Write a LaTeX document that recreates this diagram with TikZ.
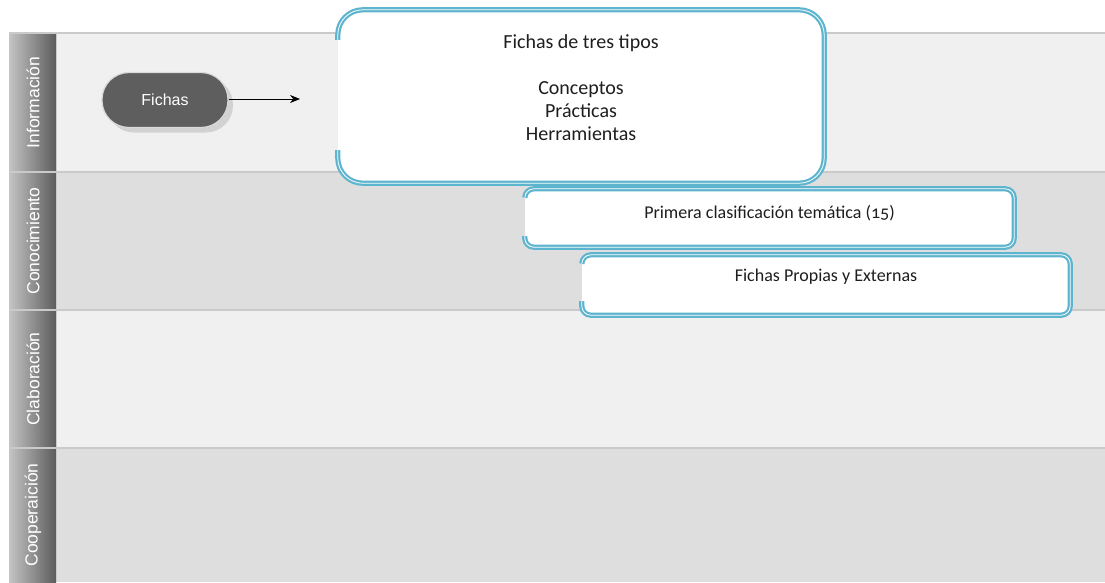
\documentclass[tikz,border=0pt]{standalone}
\usepackage{fontspec}
\setmainfont{Carlito}[Numbers=OldStyle]
\newfontfamily\lanefont{Liberation Sans}
\usetikzlibrary{shadows,arrows.meta}

\definecolor{lanelight}{HTML}{F0F0F0}
\definecolor{lanedark}{HTML}{DEDEDE}
\definecolor{sepgray}{HTML}{CACACA}
\definecolor{hdlight}{HTML}{C4C4C4}
\definecolor{hddark}{HTML}{5C5C5C}
\definecolor{pillgray}{HTML}{5E5E5E}
\definecolor{cardblue}{HTML}{5DB4CE}
\definecolor{inktext}{HTML}{1E1E1E}

\tikzset{
  lanehead/.style={left color=hdlight, right color=hddark},
  lanelabel/.style={rotate=90, text=white, inner sep=0pt,
    font=\lanefont\fontsize{17.5}{20}\selectfont},
  pill/.style={rounded corners=27, minimum width=126, minimum height=55,
    fill=pillgray, draw=black!15, line width=1.2, text=white, inner sep=0pt,
    font=\lanefont\fontsize{16}{18}\selectfont,
    drop shadow={shadow xshift=5pt, shadow yshift=-5pt, fill=black!35, opacity=0.4}},
  card/.style={fill=white, inner sep=0pt},
  cardedge/.style={draw=cardblue, line width=2.2, double=white, double distance=0.8},
  cardtext/.style={text=inktext, align=center, inner sep=0pt,
    font=\fontsize{18}{23}\selectfont},
  bigtext/.style={cardtext, font=\fontsize{20}{23}\selectfont},
  flow/.style={-{Stealth[length=10,width=8]}, line width=0.9, black}
}

\begin{document}
\begin{tikzpicture}[x=1pt,y=-1pt]
\useasboundingbox (0,0) rectangle (1105,582);
\fill[white] (0,0) rectangle (1105,582);

% swimlane bodies
\fill[lanelight] (57,33) rectangle (1105,172);
\fill[lanedark]  (57,172) rectangle (1105,310);
\fill[lanelight] (57,310) rectangle (1105,448);
\fill[lanedark]  (57,448) rectangle (1105,582);

% lane headers
\shade[lanehead] (9,34) rectangle (56,171);
\shade[lanehead] (9,173) rectangle (56,309);
\shade[lanehead] (9,311) rectangle (56,447);
\shade[lanehead] (9,449) rectangle (56,582);

% lane separators
\foreach \yy in {33,172,310,448}
  \draw[sepgray, line width=1.5] (9,\yy) -- (1105,\yy);
\draw[sepgray, line width=1] (56.5,33) -- (56.5,582);

\node[lanelabel] (lInfo) at (33,102.5) {Información};
\node[lanelabel] (lCono) at (33,241) {Conocimiento};
\node[lanelabel] (lClab) at (33,379) {Claboración};
\node[lanelabel] (lCoop) at (33,515) {Cooperaición};

% start node and its arrow
\node[pill] (fichas) at (165,100) {Fichas};
\coordinate (fichasEnd) at (300,99);
\draw[flow] (fichas.east |- fichasEnd) -- (fichasEnd);

% three cards with the open left edge
\node[card, rounded corners=25, minimum width=486, minimum height=173] (tipos) at (581,96.5) {};
\draw[cardedge, rounded corners=25]
  ([yshift=-30]tipos.north west) -- (tipos.north west) -- (tipos.north east)
  -- (tipos.south east) -- (tipos.south west) -- ([yshift=33]tipos.south west);
\node[bigtext] (tiposTxt) at (581,88) {Fichas de tres tipos\\[23pt]Conceptos\\Prácticas\\Herramientas};

\node[card, rounded corners=9, minimum width=489, minimum height=58] (clasif) at (769.5,218) {};
\draw[cardedge, rounded corners=9]
  ([yshift=-9]clasif.north west) -- (clasif.north west) -- (clasif.north east)
  -- (clasif.south east) -- (clasif.south west) -- ([yshift=11]clasif.south west);
\node[cardtext] (clasifTxt) at (769.5,213) {Primera clasificación temática (15)};

\node[card, rounded corners=9, minimum width=488, minimum height=60] (propias) at (826,285) {};
\draw[cardedge, rounded corners=9]
  ([yshift=-9]propias.north west) -- (propias.north west) -- (propias.north east)
  -- (propias.south east) -- (propias.south west) -- ([yshift=14]propias.south west);
\node[cardtext] (propiasTxt) at (826,277) {Fichas Propias y Externas};
\end{tikzpicture}
\end{document}
